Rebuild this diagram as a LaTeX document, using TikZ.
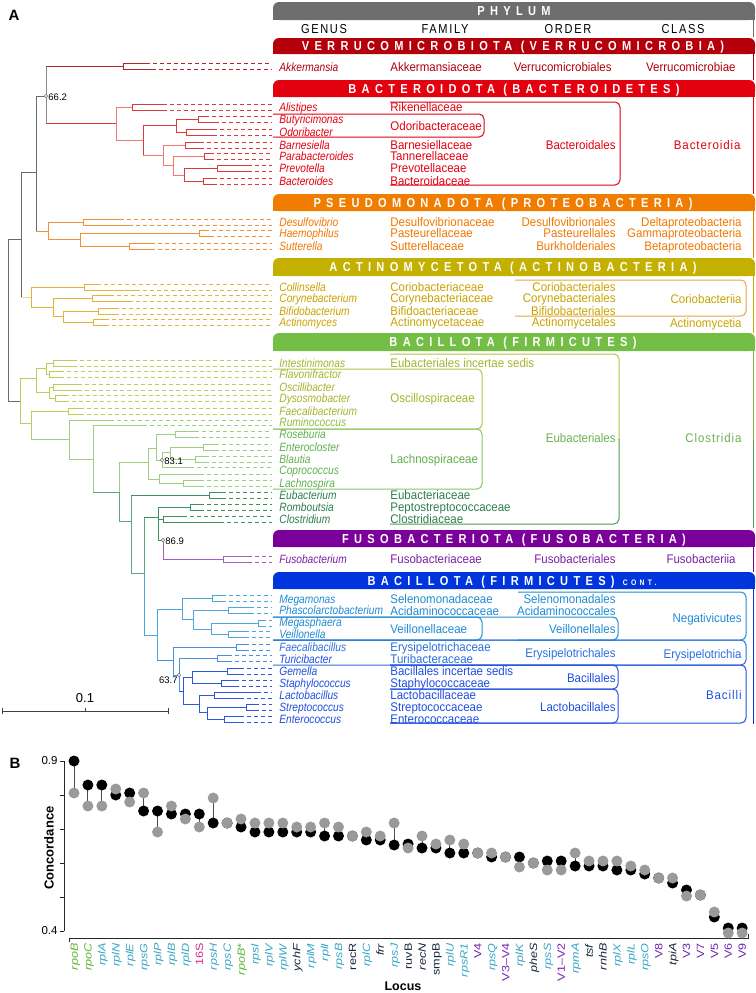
\documentclass[tikz,border=0pt]{standalone}
\usepackage{fontspec}
\setmainfont{Liberation Sans}
\definecolor{cg}{HTML}{6B6B6B}
\definecolor{cVer}{HTML}{B3262B}
\definecolor{cBac}{HTML}{DD3B3B}
\definecolor{cBacL}{HTML}{F27A74}
\definecolor{cPro}{HTML}{F0923A}
\definecolor{cAct}{HTML}{E2B43C}
\definecolor{cActL}{HTML}{F2D58A}
\definecolor{cOs}{HTML}{B8CF5C}
\definecolor{cLa}{HTML}{9CCF7E}
\definecolor{cEu}{HTML}{3E8F62}
\definecolor{cEuL}{HTML}{5BA67E}
\definecolor{cFu}{HTML}{A65BC8}
\definecolor{cNe}{HTML}{4FA8DC}
\definecolor{cBa}{HTML}{4A8FE2}
\definecolor{cBb}{HTML}{2E57DE}
\definecolor{tVer}{HTML}{B0000A}
\definecolor{tBac}{HTML}{E3000F}
\definecolor{tPro}{HTML}{F07800}
\definecolor{tAct}{HTML}{C8A300}
\definecolor{tOs}{HTML}{A5B42C}
\definecolor{tRu}{HTML}{8BBE40}
\definecolor{tLa}{HTML}{5FB04F}
\definecolor{tEu}{HTML}{2E7D4F}
\definecolor{tEub}{HTML}{6AB04C}
\definecolor{tFu}{HTML}{7E1FA5}
\definecolor{tNe}{HTML}{1F8AD4}
\definecolor{tEry}{HTML}{2A6EDF}
\definecolor{tB}{HTML}{1E4EE0}
\definecolor{bPh}{HTML}{6E6E6E}
\definecolor{bVer}{HTML}{B5000B}
\definecolor{bBac}{HTML}{E3000F}
\definecolor{bPro}{HTML}{F07D00}
\definecolor{bAct}{HTML}{C4B000}
\definecolor{bBcl}{HTML}{74BE46}
\definecolor{bFu}{HTML}{7A0099}
\definecolor{bBlu}{HTML}{0035DE}
\definecolor{xAct}{HTML}{E8A33C}
\definecolor{xEuT}{HTML}{B5C444}
\definecolor{xEuB}{HTML}{4E9A55}
\definecolor{xOs}{HTML}{B2C646}
\definecolor{xLa}{HTML}{86C46A}
\definecolor{lg}{HTML}{5CB531}
\definecolor{lc}{HTML}{36A6C6}
\definecolor{lm}{HTML}{D22A8C}
\definecolor{lk}{HTML}{16253C}
\definecolor{lp}{HTML}{7324B0}
\definecolor{dotg}{HTML}{9A9A9A}
\newcommand\gfork[5]{%
  \draw[#5] (#1,#2-3) -- (#1,#2+3);
  \draw[#5] (#1,#2-3) -- (#3,#2-3);
  \draw[#5] (#1,#2+3) -- (#4,#2+3);
  \draw[#5,dl] (#3,#2-3) -- (272,#2-3);
  \draw[#5,dl] (#4,#2+3) -- (272,#2+3);}
\newcommand\sleaf[4]{\draw[#4] (#1,#2) -- (#3,#2); \draw[#4,dl] (#3,#2) -- (272,#2);}
\newcommand\obox[5]{\draw[#5, line width=1pt, rounded corners=5pt] (#1,#3) -- (#2,#3) -- (#2,#4) -- (#1,#4);}
\newcommand\pbar[5]{%
  \fill[#3, rounded corners=6pt] (273,#1) rectangle (755,#2);
  \fill[#3] (273,#2-6) rectangle (755,#2);
  \node[ptext] at (#5,{(#1+#2)/2}) {#4};}
\newcommand\bsv[4]{\draw[cg, fill=white, line width=0.5pt] (#1,#2) circle[radius=1.8];
  \node[boot,#4] at (#1+2,#2+1) {#3};}
\begin{document}
\begin{tikzpicture}[x=1pt,y=-1pt,line width=0.9pt,
  dl/.style={dash pattern=on 4pt off 3pt, line width=0.8pt},
  gen/.style={anchor=west, inner sep=0pt, font=\fontsize{12}{12}\selectfont\itshape, xscale=0.85, text height=8.6pt, text depth=0pt},
  fam/.style={anchor=west, inner sep=0pt, font=\fontsize{12.5}{12.5}\selectfont, xscale=0.92, text height=9pt, text depth=0pt},
  ord/.style={fam, anchor=east},
  cls/.style={ord, font=\fontsize{12.5}{12.5}\selectfont\addfontfeature{LetterSpace=8}},
  ptext/.style={text=white, inner sep=0pt, font=\fontsize{13}{13}\selectfont\bfseries\addfontfeature{LetterSpace=48}, xscale=0.85, text height=9.3pt, text depth=0pt},
  colh/.style={inner sep=0pt, font=\fontsize{13}{13}\selectfont\addfontfeature{LetterSpace=15}, xscale=0.85, text height=9.3pt, text depth=0pt},
  boot/.style={inner sep=0pt, anchor=west, font=\fontsize{9.5}{9.5}\selectfont, text height=6.8pt, text depth=0pt},
  lab/.style={inner sep=0pt, rotate=90, xscale=1.2, anchor=east, font=\fontsize{10.5}{10.5}\selectfont, text height=7.5pt, text depth=0pt},
  stem/.style={line width=1pt, black!70}]
\useasboundingbox (0,0) rectangle (755,993);
% ---------- panel labels
\node[font=\fontsize{15}{15}\selectfont\bfseries, inner sep=0pt] (pA) at (14,15) {A};
\node[font=\fontsize{15}{15}\selectfont\bfseries, inner sep=0pt] (pB) at (15,763) {B};
% ---------- phylum bars
\pbar{2}{20}{bPh}{PHYLUM}{514}
\pbar{38}{54}{bVer}{VERRUCOMICROBIOTA (VERRUCOMICROBIA)}{513}
\pbar{80}{97}{bBac}{BACTEROIDOTA (BACTEROIDETES)}{514}
\pbar{194}{211}{bPro}{PSEUDOMONADOTA (PROTEOBACTERIA)}{503}
\pbar{258}{276}{bAct}{ACTINOMYCETOTA (ACTINOBACTERIA)}{513}
\pbar{333}{351}{bBcl}{BACILLOTA (FIRMICUTES)}{513}
\pbar{530}{547}{bFu}{FUSOBACTERIOTA (FUSOBACTERIA)}{514}
\pbar{572}{589}{bBlu}{BACILLOTA (FIRMICUTES) {\fontsize{8}{8}\selectfont CONT.}}{512}
% right frame lines
\draw[bPh, line width=1.5pt] (753.5,20) -- (753.5,37);
\draw[bVer, line width=1.5pt] (753.5,54) -- (753.5,80);
\draw[bBac, line width=1.5pt] (753.5,97) -- (753.5,194);
\draw[bPro, line width=1.5pt] (753.5,211) -- (753.5,258);
\draw[bAct, line width=1.5pt] (753.5,276) -- (753.5,333);
\draw[bBcl, line width=1.5pt] (753.5,351) -- (753.5,440);
\draw[xEuB, line width=1.5pt] (753.5,440) -- (753.5,528);
\draw[bFu, line width=1.5pt] (753.5,547) -- (753.5,572);
\draw[bBlu, line width=1.5pt] (753.5,589) -- (753.5,724);
% column headers
\node[colh] (hG) at (324,29) {GENUS};
\node[colh] (hF) at (445,29) {FAMILY};
\node[colh] (hO) at (568,29) {ORDER};
\node[colh] (hC) at (683,29) {CLASS};
% ---------- grouping boxes
\obox{273}{484}{114}{137}{tBac}
\obox{390}{620}{102}{185}{tBac}
\obox{515}{746}{280}{316}{xAct}
\draw[xEuT, line width=1pt, rounded corners=5pt] (390,354) -- (619,354) -- (619,440);
\draw[xEuB, line width=1pt, rounded corners=5pt] (619,439) -- (619,524) -- (390,524);
\obox{273}{482}{369}{429}{xOs}
\obox{273}{482}{429}{489}{xLa}
\obox{273}{482}{617}{640}{tNe}
\obox{273}{618}{617}{640}{tNe}
\obox{518}{746}{592}{640}{tNe}
\obox{273}{746}{640}{665}{tEry}
\obox{390}{746}{665}{723}{tB}
\obox{390}{618}{665}{689}{tB}
\obox{390}{618}{689}{723}{tB}
% ---------- genus names
\foreach \t/\y/\c in {Akkermansia/67/tVer, Alistipes/107/tBac, Butyricimonas/119/tBac, Odoribacter/132/tBac, Barnesiella/145/tBac, Parabacteroides/156/tBac, Prevotella/168/tBac, Bacteroides/181/tBac,
 Desulfovibrio/222/tPro, Haemophilus/233/tPro, Sutterella/246/tPro,
 Collinsella/287/tAct, Corynebacterium/298/tAct, Bifidobacterium/311/tAct, Actinomyces/322/tAct,
 Intestinimonas/363/tOs, Flavonifractor/374/tOs, Oscillibacter/387/tOs, Dysosmobacter/398/tOs, Faecalibacterium/411/tOs, Ruminococcus/422/tRu,
 Roseburia/434/tLa, Enterocloster/447/tLa, Blautia/459/tLa, Coprococcus/470/tLa, Lachnospira/483/tLa,
 Eubacterium/495/tEu, Romboutsia/507/tEu, Clostridium/519/tEu, Fusobacterium/559/tFu,
 Megamonas/599/tNe, Phascolarctobacterium/610/tNe, Megasphaera/622/tNe, Veillonella/634/tNe,
 Faecalibacillus/647/tEry, Turicibacter/659/tB, Gemella/671/tB, Staphylococcus/683/tB, Lactobacillus/695/tB, Streptococcus/707/tB, Enterococcus/719/tB}
 {\node[gen, text=\c] at (279,\y) {\t};}
% ---------- families
\foreach \t/\y/\c in {Akkermansiaceae/67/tVer, Rikenellaceae/107/tBac, Odoribacteraceae/126/tBac, Barnesiellaceae/145/tBac, Tannerellaceae/156/tBac, Prevotellaceae/168/tBac, Bacteroidaceae/181/tBac,
 Desulfovibrionaceae/222/tPro, Pasteurellaceae/233/tPro, Sutterellaceae/246/tPro,
 Coriobacteriaceae/287/tAct, Corynebacteriaceae/298/tAct, Bifidoacteriaceae/311/tAct, Actinomycetaceae/322/tAct,
 Eubacteriales incertae sedis/363/tOs, Oscillospiraceae/398/tOs, Lachnospiraceae/459/tLa,
 Eubacteriaceae/495/tEu, Peptostreptococcaceae/507/tEu, Clostridiaceae/519/tEu, Fusobacteriaceae/559/tFu,
 Selenomonadaceae/599/tNe, Acidaminococcaceae/611/tNe, Veillonellaceae/629/tNe,
 Erysipelotrichaceae/647/tEry, Turibacteraceae/659/tEry, Bacillales incertae sedis/671/tB, Staphylococcaceae/683/tB,
 Lactobacillaceae/695/tB, Streptococcaceae/707/tB, Enterococcaceae/719/tB}
 {\node[fam, text=\c] at (390,\y) {\t};}
% ---------- orders
\foreach \t/\x/\y/\c in {Verrucomicrobiales/612/67/tVer, Bacteroidales/616/145/tBac,
 Desulfovibrionales/616/222/tPro, Pasteurellales/616/233/tPro, Burkholderiales/616/246/tPro,
 Coriobacteriales/616/287/tAct, Corynebacteriales/616/298/tAct, Bifidobacteriales/616/311/tAct, Actinomycetales/616/322/tAct,
 Eubacteriales/616/438/tEub, Fusobacteriales/616/559/tFu,
 Selenomonadales/616/599/tNe, Acidaminococcales/616/611/tNe, Veillonellales/616/629/tNe,
 Erysipelotrichales/616/653/tEry, Bacillales/616/678/tB, Lactobacillales/616/707/tB}
 {\node[ord, text=\c] at (\x,\y) {\t};}
% ---------- classes
\foreach \t/\x/\y/\c in {Verrucomicrobiae/736/67/tVer, Deltaproteobacteria/742/222/tPro, Gammaproteobacteria/742/233/tPro, Betaproteobacteria/742/246/tPro,
 Coriobacteriia/742/299/tAct, Actinomycetia/742/323/tAct, Fusobacteriia/736/559/tFu,
 Negativicutes/742/618/tNe, Erysipelotrichia/742/654/tEry}
 {\node[ord, text=\c] at (\x,\y) {\t};}
\node[cls, text=tBac] at (741,145) {Bacteroidia};
\node[cls, text=tEub] at (742,438) {Clostridia};
\node[cls, text=tB] at (742,695) {Bacilli};
% ---------- tree: backbone
\draw[cg] (8,239) -- (8,401);
\draw[cg] (8,239) -- (21,239);
\draw[cg] (21,172) -- (21,297);
\draw[cg] (21,172) -- (36,172);
\draw[cg] (36,96) -- (36,231);
\draw[cg] (36,96) -- (46,96);
\draw[cg!80] (46,66) -- (46,123);
% Verrucomicrobia
\draw[cVer] (46,66) -- (123,66);
\gfork{123}{66}{146}{152}{cVer}
% Bacteroidetes
\draw[cBac] (46,123) -- (116,123);
\draw[cBacL] (116,107) -- (116,140);
\draw[cBacL] (116,107) -- (132,107);
\gfork{132}{107}{163}{163}{cBac}
\draw[cBacL] (116,140) -- (143,140);
\draw[cBac] (143,125) -- (143,155);
\draw[cBac] (143,125) -- (176,125);
\draw[cBac] (176,119) -- (176,132);
\draw[cBac] (176,119) -- (198,119);
\gfork{198}{119}{205}{215}{cBac}
\draw[cBac] (176,132) -- (186,132);
\gfork{186}{132}{213}{213}{cBac}
\draw[cBacL] (143,155) -- (163,155);
\draw[cBacL] (163,145) -- (163,165);
\draw[cBacL] (163,145) -- (185,145);
\gfork{185}{145}{200}{200}{cBac}
\draw[cBacL] (163,165) -- (173,165);
\draw[cBacL] (173,156) -- (173,175);
\draw[cBacL] (173,156) -- (204,156);
\gfork{204}{156}{210}{210}{cBac}
\draw[cBacL] (173,175) -- (184,175);
\draw[cBac] (184,168) -- (184,181);
\draw[cBac] (184,168) -- (217,168);
\gfork{217}{168}{248}{248}{cBac}
\draw[cBac] (184,181) -- (203,181);
\gfork{203}{181}{213}{213}{cBac}
% Proteobacteria
\draw[cPro] (36,231) -- (48,231);
\draw[cPro] (48,222) -- (48,239);
\draw[cPro] (48,222) -- (83,222);
\gfork{83}{222}{120}{129}{cPro}
\draw[cPro] (48,239) -- (80,239);
\draw[cPro] (80,233) -- (80,246);
\draw[cPro] (80,233) -- (199,233);
\gfork{199}{233}{205}{210}{cPro}
\draw[cPro] (80,246) -- (129,246);
\gfork{129}{246}{151}{151}{cPro}
% Actinobacteria
\draw[cActL] (21,297) -- (31,297);
\draw[cAct] (31,287) -- (31,307);
\draw[cAct] (31,287) -- (84,287);
\gfork{84}{287}{97}{136}{cAct}
\draw[cAct] (31,307) -- (53,307);
\draw[cAct] (53,298) -- (53,316);
\draw[cAct] (53,298) -- (92,298);
\gfork{92}{298}{110}{129}{cAct}
\draw[cAct] (53,316) -- (63,316);
\draw[cAct] (63,311) -- (63,322);
\draw[cAct] (63,311) -- (98,311);
\gfork{98}{311}{115}{115}{cAct}
\draw[cAct] (63,322) -- (93,322);
\gfork{93}{322}{105}{105}{cAct}
% Firmicutes: Oscillospiraceae
\draw[cg] (8,401) -- (20,401);
\draw[cOs] (20,378) -- (20,423);
\draw[cOs] (20,378) -- (36,378);
\draw[cOs] (36,368) -- (36,392);
\draw[cOs] (36,368) -- (46,368);
\draw[cOs] (46,363) -- (46,374);
\draw[cOs] (46,363) -- (53,363);
\gfork{53}{363}{73}{73}{cOs}
\draw[cOs] (46,374) -- (49,374);
\gfork{49}{374}{60}{60}{cOs}
\draw[cOs] (36,392) -- (49,392);
\draw[cOs] (49,387) -- (49,398);
\draw[cOs] (49,387) -- (53,387);
\gfork{53}{387}{78}{78}{cOs}
\draw[cOs] (49,398) -- (55,398);
\gfork{55}{398}{65}{65}{cOs}
\draw[cOs] (20,423) -- (31,423);
\draw[cOs] (31,411) -- (31,439);
\draw[cOs] (31,411) -- (68,411);
\gfork{68}{411}{80}{80}{cOs}
% Lachnospiraceae etc.
\draw[cLa] (31,439) -- (69,439);
\draw[cLa] (69,420) -- (69,459);
\sleaf{69}{420}{110}{cLa}
\draw[cLa] (69,459) -- (93,459);
\draw[cLa] (93,425) -- (93,492);
\sleaf{93}{425}{143}{cLa}
\draw[cEuL] (93,492) -- (119,492);
\draw[cLa] (119,462) -- (119,492);
\draw[cEuL] (119,492) -- (119,521);
\draw[cLa] (119,462) -- (148,462);
\draw[cLa] (148,448) -- (148,479);
\draw[cLa] (148,448) -- (156,448);
\draw[cLa] (156,434) -- (156,460);
\draw[cLa] (156,434) -- (175,434);
\gfork{175}{434}{195}{195}{cLa}
\draw[cLa] (156,460) -- (162,460);
\draw[cLa] (162,452) -- (162,467);
\draw[cLa] (162,452) -- (170,452);
\draw[cLa] (170,447) -- (170,459);
\draw[cLa] (170,447) -- (203,447);
\gfork{203}{447}{215}{215}{cLa}
\draw[cLa] (170,459) -- (195,459);
\gfork{195}{459}{205}{205}{cLa}
\sleaf{162}{467}{190}{cLa}
\draw[cLa] (148,479) -- (159,479);
\draw[cLa] (159,474) -- (159,483);
\sleaf{159}{474}{200}{cLa}
\draw[cLa] (159,483) -- (183,483);
\gfork{183}{483}{200}{200}{cLa}
% Eubacterium / Clostridium / Fuso
\draw[cEuL] (119,521) -- (131,521);
\draw[cEuL] (131,495) -- (131,573);
\draw[cEu] (131,495) -- (209,495);
\gfork{209}{495}{222}{222}{cEu}
\draw[cEuL] (131,573) -- (144,573);
\draw[cEuL] (144,517) -- (144,573);
\draw[cNe] (144,573) -- (144,635);
\draw[cEu] (144,517) -- (158,517);
\draw[cEu] (158,507) -- (158,540);
\draw[cEu] (158,507) -- (190,507);
\gfork{190}{507}{200}{200}{cEu}
\draw[cEu] (158,519) -- (163,519);
\gfork{163}{519}{183}{220}{cEu}
\draw[cEu] (158,540) -- (163,540);
\draw[cFu] (163,540) -- (163,559);
\draw[cFu] (163,559) -- (223,559);
\gfork{223}{559}{248}{248}{cFu}
% Negativicutes
\draw[cNe] (144,635) -- (157,635);
\draw[cNe] (157,609) -- (157,660);
\draw[cNe] (157,609) -- (182,609);
\draw[cNe] (182,598) -- (182,619);
\draw[cNe] (182,598) -- (212,598);
\gfork{212}{598}{222}{222}{cNe}
\draw[cNe] (182,619) -- (193,619);
\draw[cNe] (193,610) -- (193,629);
\draw[cNe] (193,610) -- (228,610);
\gfork{228}{610}{250}{250}{cNe}
\draw[cNe] (193,629) -- (211,629);
\draw[cNe] (211,623) -- (211,634);
\draw[cNe] (211,623) -- (258,623);
\gfork{258}{623}{262}{262}{cNe}
\draw[cNe] (211,634) -- (228,634);
\gfork{228}{634}{245}{245}{cNe}
% Bacilli
\draw[cBa] (157,660) -- (173,660);
\draw[cBa] (173,647) -- (173,675);
\draw[cBa] (173,647) -- (236,647);
\gfork{236}{647}{245}{245}{cBa}
\draw[cBa] (173,675) -- (179,675);
\draw[cBa] (179,658) -- (179,691);
\draw[cBa] (179,658) -- (217,658);
\gfork{217}{658}{228}{228}{cBa}
\draw[cBb] (179,691) -- (183,691);
\draw[cBb] (183,677) -- (183,704);
\draw[cBb] (183,677) -- (192,677);
\draw[cBb] (192,671) -- (192,683);
\draw[cBb] (192,671) -- (227,671);
\gfork{227}{671}{240}{240}{cBb}
\draw[cBb] (192,683) -- (221,683);
\gfork{221}{683}{235}{235}{cBb}
\draw[cBb] (183,704) -- (199,704);
\draw[cBb] (199,695) -- (199,712);
\draw[cBb] (199,695) -- (214,695);
\gfork{214}{695}{257}{240}{cBb}
\draw[cBb] (199,712) -- (207,712);
\draw[cBb] (207,707) -- (207,719);
\draw[cBb] (207,707) -- (246,707);
\gfork{246}{707}{255}{255}{cBb}
\draw[cBb] (207,719) -- (224,719);
\gfork{224}{719}{240}{240}{cBb}
% bootstrap values
\bsv{46}{96}{66.2}{}
\bsv{162}{460}{83.1}{}
\bsv{163}{540}{86.9}{}
\draw[cg, fill=white, line width=0.5pt] (179,675) circle[radius=1.8];
\node[boot, anchor=east] (b637) at (178,680) {63.7};
% scale bar
\coordinate (sb1) at (2,711);
\coordinate (sb2) at (168,711);
\draw[black!75, line width=1pt] (sb1) -- (sb2);
\draw[black!75, line width=0.8pt] (2,708) -- (2,714) (85,708) -- (85,711) (168,708) -- (168,714);
\node[inner sep=0pt, anchor=south, font=\fontsize{13}{13}\selectfont] (sbl) at (85,703) {0.1};
% ---------- panel B
\draw[black!85, line width=1pt] (64,761) -- (64,931);
\foreach \yy in {761,795,829,863,897,931} \draw[black!85, line width=1pt] (60,\yy) -- (64,\yy);
\node[inner sep=0pt, anchor=east, font=\fontsize{11.5}{11.5}\selectfont] (y9) at (58,761) {0.9};
\node[inner sep=0pt, anchor=east, font=\fontsize{11.5}{11.5}\selectfont] (y4) at (58,931) {0.4};
\draw[black!85, line width=1pt] (69,942) -- (69,938) -- (748,938) -- (748,934);
\node[inner sep=0pt, rotate=90, font=\fontsize{13}{13}\selectfont\bfseries] (yl) at (49,848) {Concordance};
\node[inner sep=0pt, font=\fontsize{12.5}{12.5}\selectfont\bfseries] (xl) at (403,986) {Locus};
\foreach \i/\b/\g in {0/761/793,1/785/806,2/785/806,3/795/789,4/793/802,5/811/793,6/811/832,7/814/806,8/814/819,9/814/827,
 10/823/798,11/823/823,12/827/819,13/832/823,14/832/823,15/832/823,16/832/827,17/832/827,18/836/823,19/836/827,
 20/836/836,21/840/832,22/840/836,23/845/823,24/844/848,25/848/836,26/848/844,27/853/840,28/853/844,29/853/853,
 30/857/853,31/857/857,32/857/867,33/863/863,34/861/870,35/861/870,36/866/853,37/866/861,38/866/861,39/870/861,
 40/870/866,41/874/870,42/878/878,43/883/878,44/890/896,45/895/895,46/917/912,47/928/933,48/928/933}
{
 \pgfmathsetmacro\xx{74+13.92*\i}
 \draw[stem] (\xx,\b) -- (\xx,\g);
 \fill[black] (\xx,\b) circle[radius=5.5];
 \fill[dotg] (\xx,\g) circle[radius=5.5];
}
\foreach \i/\t/\c in {0/\textit{rpoB}/lg,1/\textit{rpoC}/lg,2/\textit{rplA}/lc,3/\textit{rplN}/lc,4/\textit{rplE}/lc,5/\textit{rpsG}/lc,
 6/\textit{rplP}/lc,7/\textit{rplB}/lc,8/\textit{rplD}/lc,9/16S/lm,10/\textit{rpsH}/lc,11/\textit{rpsC}/lc,12/\textit{rpoB}*/lg,
 13/\textit{rpsI}/lc,14/\textit{rplV}/lc,15/\textit{rplW}/lc,16/\textit{ychF}/lk,17/\textit{rplM}/lc,18/\textit{rplI}/lc,
 19/\textit{rpsB}/lc,20/recR/lk,21/\textit{rplC}/lc,22/\textit{frr}/lk,23/\textit{rpsJ}/lc,24/ruvB/lk,25/\textit{recN}/lk,
 26/smpB/lk,27/\textit{rplU}/lc,28/\textit{rpsR1}/lc,29/V4/lp,30/\textit{rpsQ}/lc,31/V3–V4/lp,32/\textit{rplK}/lc,
 33/\textit{pheS}/lk,34/\textit{rpsS}/lc,35/V1–V2/lp,36/\textit{rpmA}/lc,37/\textit{tsf}/lk,38/\textit{rnhB}/lk,
 39/\textit{rplX}/lc,40/\textit{rplL}/lc,41/\textit{rpsO}/lc,42/V8/lp,43/\textit{tpiA}/lk,44/V3/lp,45/V7/lp,46/V5/lp,
 47/V6/lp,48/V9/lp}
{
 \pgfmathsetmacro\xx{74+13.92*\i}
 \node[lab, text=\c] at (\xx,943) {\t};
}
\end{tikzpicture}
\end{document}
